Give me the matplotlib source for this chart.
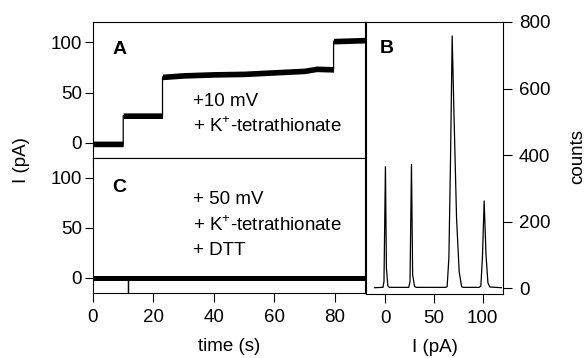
import numpy as np
import matplotlib
matplotlib.use("Agg")
import matplotlib.pyplot as plt

plt.rcParams['font.family'] = ['Liberation Sans', 'DejaVu Sans']
plt.rcParams['mathtext.fontset'] = 'custom'
plt.rcParams['mathtext.rm'] = 'Liberation Sans'
plt.rcParams['font.size'] = 13.5

# trace A: time (s) and mean current level (pA)
time_a = [0, 10.0, 10.0, 23.0, 23.0, 30, 40, 50, 60, 70, 74, 79.6, 79.6, 85, 90]
level_a = [-1, -1, 27, 27, 65.5, 67, 68, 68.5, 70, 71.5, 73.5, 73, 101, 101.5, 102]
band_a = 2.8

# trace C: flat at zero, with one downward spike
time_c = [0, 11.5, 11.5, 11.6, 11.6, 90]
level_c = [-0.7, -0.7, -15, -15, -0.7, -0.7]
band_c = 2.6

# histogram B: current (pA) vs counts
hist_i = [-11, -2.5, -1.5, 0, 1.0, 2.5, 4, 24.0, 25.3, 26.8, 28.0, 30.0, 32,
          62, 63.5, 65.3, 67.0, 68.7, 70.4, 73.2, 75.9, 78.4, 80,
          96.5, 98.2, 99.8, 101.6, 103.5, 105.5, 107.5, 119.3]
hist_counts = [1, 2, 20, 365, 60, 6, 2, 2, 20, 372, 40, 4, 2,
               2, 4, 90, 390, 758, 540, 210, 49, 4, 2,
               2, 6, 90, 262, 100, 15, 3, 1]

fig = plt.figure(figsize=(5.86, 3.58), dpi=100)
ax_a = fig.add_axes([93/586, 1 - 158/358, 272/586, 136/358])
ax_c = fig.add_axes([93/586, 1 - 293/358, 272/586, 135/358])
ax_b = fig.add_axes([366/586, 1 - 294/358, 137/586, 272/358])

for ax, t, lev, band in [(ax_a, time_a, level_a, band_a), (ax_c, time_c, level_c, band_c)]:
    t = np.array(t)
    lev = np.array(lev)
    ax.fill_between(t, lev - band, lev + band, color='black', lw=0)
    ax.plot(t, lev, color='black', lw=0.9)
    ax.set_xlim(0, 90)
    ax.set_ylim(-15, 120)
    ax.set_yticks([0, 50, 100])
    ax.set_xticks([0, 20, 40, 60, 80])
    ax.tick_params(axis='x', direction='out', length=6.5, width=0.8, pad=5, labelsize=13.5)
    ax.tick_params(axis='y', direction='out', length=6, width=0.8, pad=2, labelsize=13.5)
    for s in ax.spines.values():
        s.set_linewidth(0.8)

ax_a.tick_params(axis='x', labelbottom=False)
ax_c.set_xlabel('time (s)', fontsize=13.5, labelpad=9)

ax_a.text(6.3, 93, 'A', fontsize=14, fontweight='bold', va='center')
ax_a.text(33, 40.6, '+10 mV', fontsize=13.5, va='center')
ax_a.text(33, 16, r'+ K$^{+}$-tetrathionate', fontsize=13.5, va='center')

ax_c.text(6.3, 91, 'C', fontsize=14, fontweight='bold', va='center')
ax_c.text(33, 78, '+ 50 mV', fontsize=13.5, va='center')
ax_c.text(33, 52.5, r'+ K$^{+}$-tetrathionate', fontsize=13.5, va='center')
ax_c.text(33, 27.5, '+ DTT', fontsize=13.5, va='center')

fig.text(22/586, 1 - 160/358, 'I (pA)', rotation=90, fontsize=13.5, ha='center', va='center')

# histogram panel
ax_b.plot(hist_i, hist_counts, color='black', lw=0.9)
ax_b.set_xlim(-20, 121)
ax_b.set_ylim(-18, 800)
ax_b.set_xticks([0, 50, 100])
ax_b.set_yticks([0, 200, 400, 600, 800])
ax_b.yaxis.tick_right()
ax_b.tick_params(axis='both', direction='out', length=6.5, width=0.8, pad=5, labelsize=13.5)
ax_b.set_xlabel('I (pA)', fontsize=13.5, labelpad=9)
for s in ax_b.spines.values():
    s.set_linewidth(0.8)
ax_b.text(-6, 720, 'B', fontsize=14, fontweight='bold', va='center')
fig.text(578/586, 1 - 157/358, 'counts', rotation=90, fontsize=13.5, ha='center', va='center')

fig.savefig('out.png', dpi=100)
